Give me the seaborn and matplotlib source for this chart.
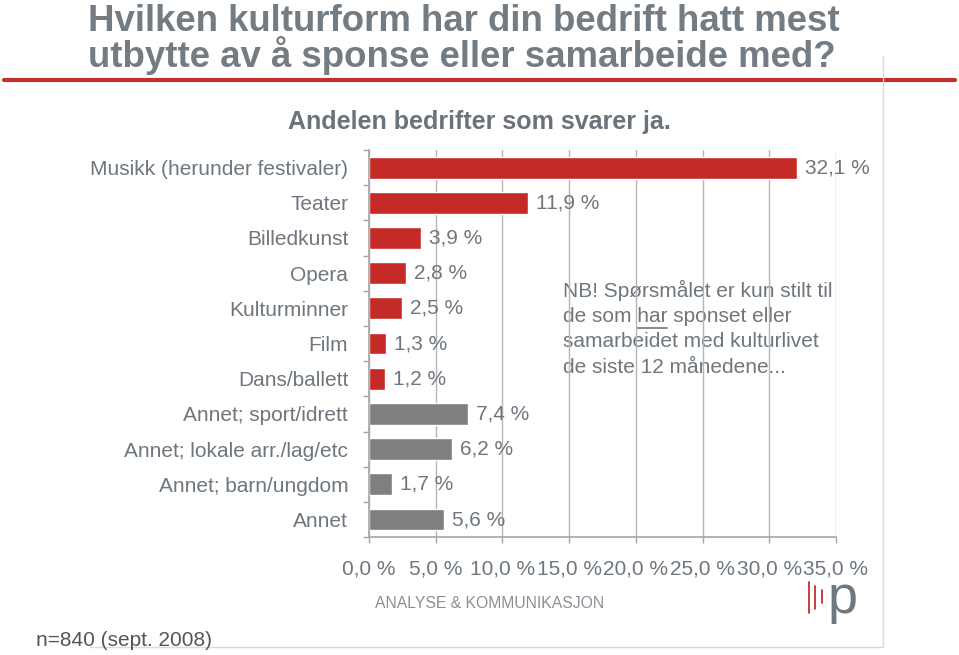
import matplotlib
matplotlib.use("Agg")
import matplotlib.pyplot as plt
from matplotlib.lines import Line2D
import numpy as np
import pandas as pd
import seaborn as sns

# data
categories = ["Musikk (herunder festivaler)", "Teater", "Billedkunst", "Opera",
              "Kulturminner", "Film", "Dans/ballett", "Annet; sport/idrett",
              "Annet; lokale arr./lag/etc", "Annet; barn/ungdom", "Annet"]
values = [32.1, 11.9, 3.9, 2.8, 2.5, 1.3, 1.2, 7.4, 6.2, 1.7, 5.6]
groups = ["kultur"] * 7 + ["annet"] * 4
x_ticks = [0, 5, 10, 15, 20, 25, 30, 35]

RED = "#C42B27"
GRAY_BAR = "#7F7F7F"
TXT = "#6E767E"
FS = 15

sns.set_theme(style="white")
plt.rcParams["font.family"] = ["Liberation Sans", "DejaVu Sans"]

df = pd.DataFrame({"kategori": categories, "andel": values, "gruppe": groups})

fig = plt.figure(figsize=(9.59, 6.55), dpi=100)
fig.patch.set_facecolor("white")
ax = fig.add_axes([0.3848, 0.180, 0.4869, 0.591])
ax.patch.set_visible(False)

sns.barplot(data=df, y="kategori", x="andel", hue="gruppe", orient="h",
            palette={"kultur": RED, "annet": GRAY_BAR}, dodge=False,
            width=0.62, legend=False, ax=ax, saturation=1)

for i, v in enumerate(values):
    ax.text(v + 0.6, i, f"{v:.1f} %".replace(".", ","), va="center", ha="left",
            fontsize=FS, color=TXT)

ax.set_xlim(0, 35)
ax.set_ylim(len(categories) - 0.5, -0.5)
ax.set_xticks(x_ticks)
ax.set_xticklabels([f"{t:.1f} %".replace(".", ",") for t in x_ticks],
                   fontsize=FS, color=TXT)
ax.set_yticks(range(len(categories)))
ax.set_yticklabels(categories, fontsize=FS, color=TXT)
ax.set_yticks(np.arange(-0.5, len(categories)), minor=True)
ax.tick_params(axis="y", which="major", length=0, pad=15)
ax.tick_params(axis="y", which="minor", length=4.3, color="#A6A6A6", width=1,
               direction="out", left=True)
ax.tick_params(axis="x", length=4.3, color="#A6A6A6", width=1, direction="out",
               bottom=True, pad=11.5)
ax.set_xlabel("")
ax.set_ylabel("")
ax.grid(axis="x", color="#B5B5B5", linewidth=1)
ax.set_axisbelow(True)
for s in ["top", "right"]:
    ax.spines[s].set_visible(False)
for s in ["left", "bottom"]:
    ax.spines[s].set_color("#A6A6A6")
    ax.spines[s].set_linewidth(1.2)

# title and decorations
fig.text(0.092, 0.9527, "Hvilken kulturform har din bedrift hatt mest",
         fontsize=26.4, fontweight="bold", color="#737B83", ha="left",
         va="baseline")
fig.text(0.092, 0.8977, "utbytte av å sponse eller samarbeide med?",
         fontsize=26.4, fontweight="bold", color="#737B83", ha="left",
         va="baseline")
fig.add_artist(Line2D([0.004, 0.996], [0.878, 0.878], color="#C0302B", lw=3,
                      transform=fig.transFigure))
fig.add_artist(Line2D([0.921, 0.921], [0.012, 0.915], color="#DADADA", lw=1,
                      transform=fig.transFigure))
fig.add_artist(Line2D([0.094, 0.921], [0.012, 0.012], color="#DADADA", lw=1,
                      transform=fig.transFigure))

fig.text(0.4995, 0.814, "Andelen bedrifter som svarer ja.", fontsize=18,
         fontweight="bold", color="#6A727A", ha="center", va="center")

# note sits behind the gridlines, as in the original
note_x = 0.587
note_y = [0.556, 0.5175, 0.479, 0.4395]
note = ["NB! Spørsmålet er kun stilt til",
        "de som har sponset eller",
        "samarbeidet med kulturlivet",
        "de siste 12 månedene..."]
for yy, line in zip(note_y, note):
    fig.text(note_x, yy, line, fontsize=FS, color=TXT, ha="left", va="center",
             zorder=-1)

# underline "har" in the note
renderer = fig.canvas.get_renderer()
t0 = fig.text(note_x, note_y[1], "de som ", fontsize=FS, alpha=0)
t1 = fig.text(note_x, note_y[1], "de som har", fontsize=FS, alpha=0)
x0 = t0.get_window_extent(renderer).x1 / fig.bbox.width
x1 = t1.get_window_extent(renderer).x1 / fig.bbox.width
fig.add_artist(Line2D([x0, x1], [note_y[1] - 0.018, note_y[1] - 0.018],
                      color=TXT, lw=1.2, transform=fig.transFigure, zorder=-1))

# logo
fig.text(0.391, 0.079, "ANALYSE & KOMMUNIKASJON", fontsize=11.3, color="#8A9096",
         ha="left", va="center")
for xl, y0, y1 in [(0.8436, 0.064, 0.112), (0.8495, 0.070, 0.106),
                   (0.8573, 0.080, 0.100)]:
    fig.add_artist(Line2D([xl, xl], [y0, y1], color="#C0302B", lw=1.3,
                          transform=fig.transFigure))
fig.text(0.879, 0.0634, "p", fontsize=39, color="#6E7880", ha="center",
         va="baseline")

fig.text(0.038, 0.022, "n=840 (sept. 2008)", fontsize=FS, color="#555555",
         ha="left", va="center")

fig.savefig("out.png", dpi=100, facecolor="white")
